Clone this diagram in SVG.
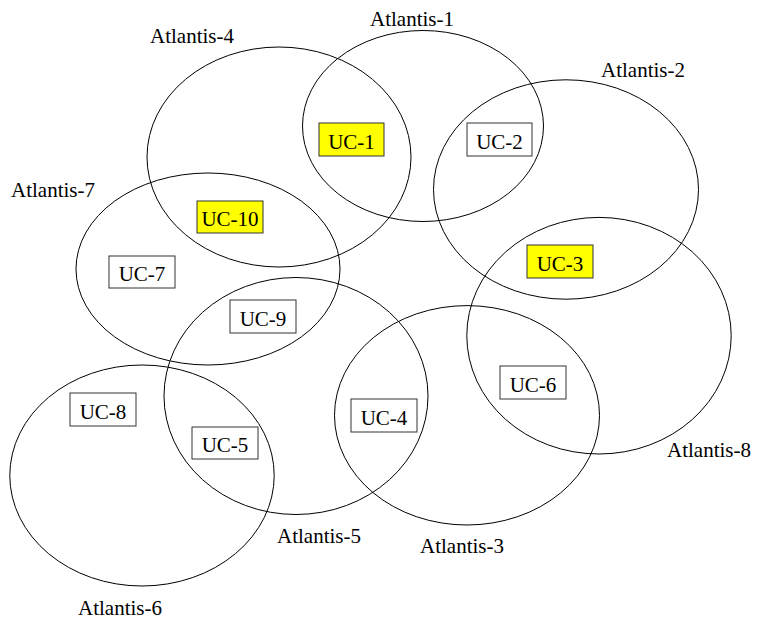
<svg xmlns="http://www.w3.org/2000/svg" width="757" height="622" viewBox="0 0 757 622">
<style>
.reg{fill:none;stroke:#000;stroke-width:1}
.box{fill:#fff;stroke:#333;stroke-width:1}
.hl{fill:#ffff00;stroke:#333;stroke-width:1}
text{font-family:"Liberation Serif","Times New Roman",serif;font-size:21px;fill:#000}
.uc{text-anchor:middle}
</style>
<rect width="757" height="622" fill="#fff"/>
<g id="regions">
<g id="atlantis-1"><ellipse class="reg" cx="423" cy="126" rx="120.5" ry="95.5"/><text x="370" y="26">Atlantis-1</text></g>
<g id="atlantis-4"><ellipse class="reg" cx="279" cy="157" rx="132" ry="110"/><text x="150" y="43">Atlantis-4</text></g>
<g id="atlantis-2"><ellipse class="reg" cx="566" cy="189.5" rx="132.5" ry="109.7"/><text x="601" y="77">Atlantis-2</text></g>
<g id="atlantis-7"><ellipse class="reg" cx="208" cy="269" rx="132" ry="96"/><text x="11" y="197">Atlantis-7</text></g>
<g id="atlantis-8"><ellipse class="reg" cx="599" cy="335.7" rx="132.2" ry="118.3"/><text x="667" y="457">Atlantis-8</text></g>
<g id="atlantis-5"><ellipse class="reg" cx="296" cy="396" rx="132" ry="118.5"/><text x="277" y="543">Atlantis-5</text></g>
<g id="atlantis-3"><ellipse class="reg" cx="467" cy="415.3" rx="132.5" ry="109.7"/><text x="420" y="553">Atlantis-3</text></g>
<g id="atlantis-6"><ellipse class="reg" cx="142" cy="475.5" rx="132.2" ry="110.5"/><text x="78" y="615">Atlantis-6</text></g>
</g>
<g id="connectors"></g>
<g id="uc-1"><rect class="hl" x="319" y="123" width="65" height="33"/><text class="uc" x="351.5" y="149">UC-1</text></g>
<g id="uc-2"><rect class="box" x="467" y="123" width="65" height="33"/><text class="uc" x="499.5" y="149">UC-2</text></g>
<g id="uc-3"><rect class="hl" x="527" y="245" width="66" height="33"/><text class="uc" x="560" y="271">UC-3</text></g>
<g id="uc-10"><rect class="hl" x="197" y="201" width="66" height="32"/><text class="uc" x="230" y="226">UC-10</text></g>
<g id="uc-7"><rect class="box" x="109" y="256" width="66" height="32"/><text class="uc" x="142" y="281">UC-7</text></g>
<g id="uc-9"><rect class="box" x="230" y="300" width="66" height="33"/><text class="uc" x="263" y="326">UC-9</text></g>
<g id="uc-8"><rect class="box" x="70" y="393" width="66" height="33"/><text class="uc" x="103" y="419">UC-8</text></g>
<g id="uc-5"><rect class="box" x="192" y="427" width="66" height="32"/><text class="uc" x="225" y="452">UC-5</text></g>
<g id="uc-4"><rect class="box" x="351" y="399" width="66" height="33"/><text class="uc" x="384" y="425">UC-4</text></g>
<g id="uc-6"><rect class="box" x="500" y="366" width="66" height="33"/><text class="uc" x="533" y="392">UC-6</text></g>
</svg>
